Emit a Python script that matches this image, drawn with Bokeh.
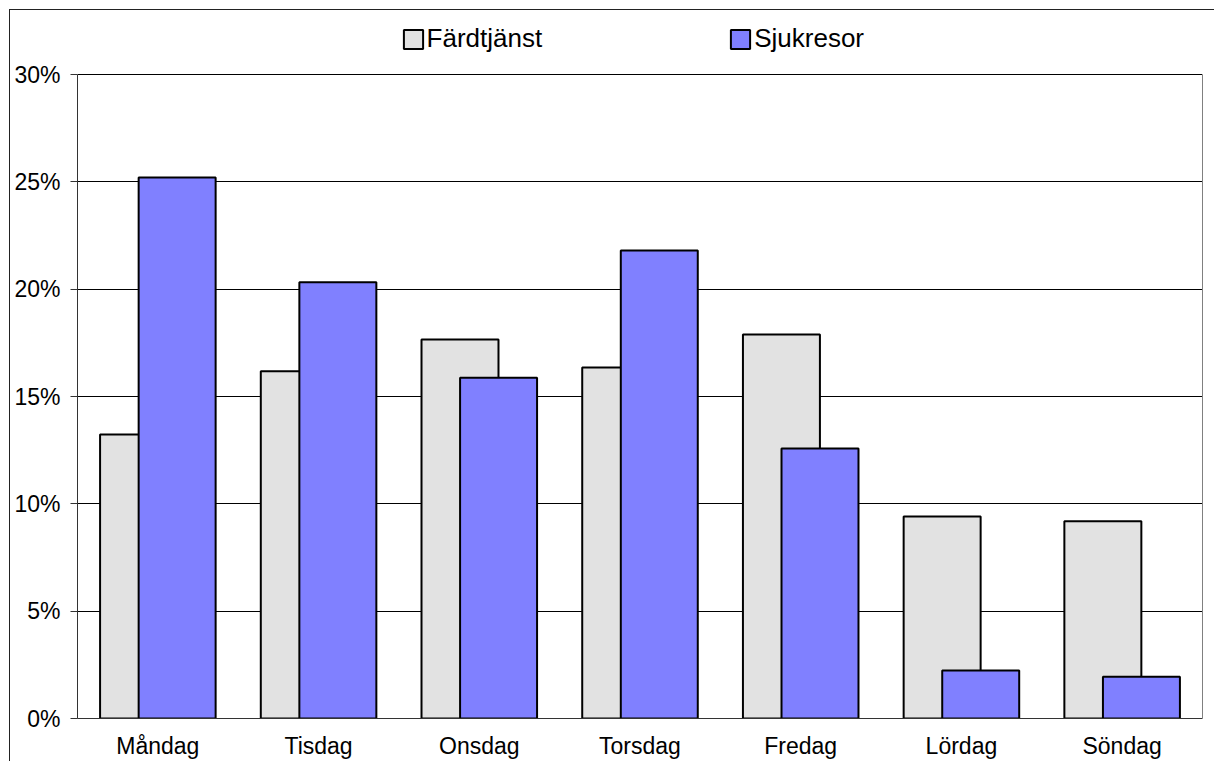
from bokeh.plotting import figure
from bokeh.models import (FactorRange, Range1d, NumeralTickFormatter, FixedTicker, Legend,
                          LegendItem, ColumnDataSource, LinearAxis)
from bokeh.transform import dodge
from bokeh.embed import file_html
from bokeh.resources import INLINE

days = ["Måndag", "Tisdag", "Onsdag", "Torsdag", "Fredag", "Lördag", "Söndag"]
fardtjanst = [0.1323, 0.1618, 0.1766, 0.1635, 0.1789, 0.0941, 0.0919]
sjukresor = [0.2520, 0.2032, 0.1587, 0.2180, 0.1258, 0.0224, 0.0194]
y_ticks = [0.0, 0.05, 0.10, 0.15, 0.20, 0.25, 0.30]
series_names = ["Färdtjänst", "Sjukresor"]

src = ColumnDataSource(dict(day=days, f=fardtjanst, s=sjukresor))

# frame spans from the canvas top; the value axis stops at 30 %, space above holds the legend
Y_MAX = 0.30
Y_TOP = Y_MAX * 718 / 644

p = figure(
    x_range=FactorRange(*days, range_padding=0),
    y_range=Range1d(0, Y_TOP),
    width=1214, height=761,
    output_backend="svg", toolbar_location=None,
    min_border_left=77, min_border_top=0, min_border_right=12, min_border_bottom=43,
)
p.border_fill_alpha = 0
p.background_fill_alpha = 0
p.outline_line_color = None
p.styles = {
    "margin-bottom": "-8px",
    "margin-right": "-8px",
    "background": "linear-gradient(#222222,#222222) 9px 9px / 1px 100% no-repeat, "
                  "linear-gradient(#222222,#222222) 9px 9px / 100% 1px no-repeat, white",
}

rf = p.vbar(x=dodge("day", -0.12, range=p.x_range), top="f", width=0.479, source=src,
            fill_color="#E2E2E2", line_color="black", line_width=2)
rs = p.vbar(x=dodge("day", 0.12, range=p.x_range), top="s", width=0.479, source=src,
            fill_color="#8080FF", line_color="black", line_width=2)

p.xgrid.grid_line_color = None
p.ygrid.ticker = FixedTicker(ticks=y_ticks)
p.ygrid.grid_line_color = "#000000"
p.ygrid.grid_line_width = 1

p.yaxis.ticker = FixedTicker(ticks=y_ticks)
p.yaxis.bounds = (0, Y_MAX)
p.yaxis.formatter = NumeralTickFormatter(format="0%")
p.yaxis.major_label_text_font = "Liberation Sans"
p.yaxis.major_label_text_font_size = "23px"
p.yaxis.major_label_text_color = "black"
p.yaxis.axis_line_color = "#333333"
p.yaxis.major_tick_line_color = "#333333"
p.yaxis.major_tick_out = 7
p.yaxis.major_tick_in = 0
p.yaxis.minor_tick_line_color = None
p.yaxis.major_label_standoff = 10

right_edge = LinearAxis(ticker=FixedTicker(ticks=[]), bounds=(0, Y_MAX),
                        axis_line_color="#808080", major_tick_line_color=None,
                        minor_tick_line_color=None, major_label_text_alpha=0,
                        major_tick_out=0, major_tick_in=0, major_label_standoff=0)
p.add_layout(right_edge, "right")

p.xaxis.major_label_text_font = "Liberation Sans"
p.xaxis.major_label_text_font_size = "23px"
p.xaxis.major_label_text_color = "black"
p.xaxis[0].axis_line_color = "#333333"
p.xaxis.major_tick_line_color = None
p.xaxis.major_tick_out = 0
p.xaxis.major_label_standoff = 14

legend = Legend(
    items=[LegendItem(label=series_names[0], renderers=[rf]),
           LegendItem(label=series_names[1], renderers=[rs])],
    location=(323.6, 664), orientation="horizontal",
    glyph_width=24, glyph_height=24, label_standoff=2, spacing=186,
    padding=0, margin=0, border_line_alpha=0, background_fill_alpha=0,
    label_text_font="Liberation Sans", label_text_font_size="26px", label_text_color="black",
)
p.add_layout(legend, "center")

open("out.html", "w").write(file_html(p, INLINE))
